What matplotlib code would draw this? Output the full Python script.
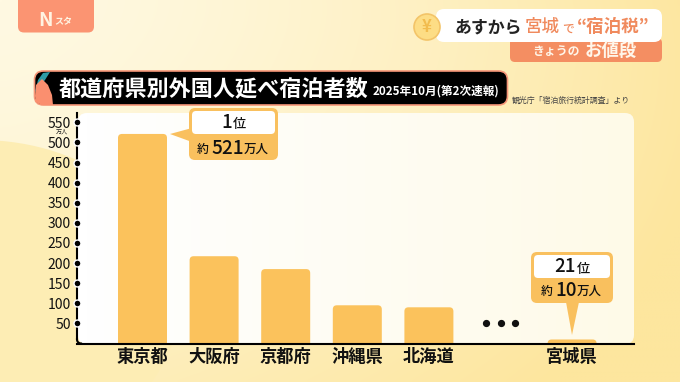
import numpy as np
import matplotlib
matplotlib.use("Agg")
import matplotlib.pyplot as plt
from matplotlib.patches import FancyBboxPatch, Polygon, Circle, Ellipse

plt.rcParams['font.family'] = ['Noto Sans CJK JP', 'DejaVu Sans']

prefectures = ['東京都', '大阪府', '京都府', '沖縄県', '北海道', '宮城県']
positions = [0, 1, 2, 3, 4, 6]
guests = [521, 217, 185, 95, 90, 10]
yticks = [50, 100, 150, 200, 250, 300, 350, 400, 450, 500, 550]
title = '都道府県別外国人延べ宿泊者数'
subtitle = '2025年10月(第2次速報)'
source = '観光庁「宿泊旅行統計調査」より'

W, H = 680, 382
BAR = '#FBC25C'
fig = plt.figure(figsize=(W / 100, H / 100), dpi=100)

# pixel-space layers
bg = fig.add_axes([0, 0, 1, 1], zorder=0)
bg.set_xlim(0, W); bg.set_ylim(H, 0); bg.axis('off')
ov = fig.add_axes([0, 0, 1, 1], zorder=3)
ov.set_xlim(0, W); ov.set_ylim(H, 0); ov.axis('off')

# background wash
yy, xx = np.mgrid[0:1:96j, 0:1:170j]
t = np.clip(0.95 * xx ** 1.5 * (1 - 0.35 * yy) + 0.55 * yy ** 1.5, 0, 1)
c0 = np.array([255, 249, 226]) / 255
c1 = np.array([253, 230, 158]) / 255
img = c0 + (c1 - c0) * t[..., None]
bg.imshow(img, extent=(0, W, H, 0), aspect='auto', interpolation='bilinear', zorder=0)
bg.set_xlim(0, W); bg.set_ylim(H, 0)
bg.add_patch(Ellipse((-20, 300), 400, 320, fc='#FDEDB4', ec='none', zorder=0.5))

# plot panel
panel = FancyBboxPatch((78, 113), 556, 231, boxstyle='round,pad=0,rounding_size=9',
                       fc='none', ec='none', zorder=1)
bg.add_patch(panel)
gx = np.linspace(0, 1, 64)[None, :]
pc0 = np.array([255, 255, 255]) / 255
pc1 = np.array([254, 250, 232]) / 255
pimg = pc0 + (pc1 - pc0) * gx[..., None]
pi = bg.imshow(pimg, extent=(78, 634, 344, 113), aspect='auto', zorder=1)
pi.set_clip_path(panel)
bg.set_xlim(0, W); bg.set_ylim(H, 0)

# chart axes, placed on the picture's plot frame
left, right, top, base = 77, 634, 113, 343.5
ax = fig.add_axes([left / W, 1 - base / H, (right - left) / W, (base - top) / H], zorder=1)
ax.patch.set_visible(False)
px_x, px_y = 71.6, (323 - 142) / 450
ax.set_xlim((left - 142.5) / px_x, (right - 142.5) / px_x)
ax.set_ylim(0, (base - top) / px_y)
bars = ax.bar(positions, guests, width=49 / px_x, color=BAR)
for b in bars:
    b.set_visible(False)
    rx = 4 / px_x
    ax.add_patch(FancyBboxPatch((b.get_x(), -20), b.get_width(), b.get_height() + 20,
                                boxstyle=f'round,pad=0,rounding_size={rx}',
                                mutation_aspect=(1 / px_y) / (1 / px_x),
                                fc=BAR, ec='none', zorder=2, clip_on=True))
ax.set_xticks(positions, prefectures, fontsize=12.4, fontweight='bold', color='#111111')
ax.set_yticks(yticks, [str(v) for v in yticks], fontsize=10, color='#111111')
ax.tick_params(axis='both', length=0)
ax.tick_params(axis='y', pad=4.5)
ax.tick_params(axis='x', pad=3.2)
for s in ['top', 'right']:
    ax.spines[s].set_visible(False)
ax.spines['left'].set_linewidth(1.5)
ax.spines['bottom'].set_linewidth(1.5)
ax.spines['left'].set_bounds(10, ax.get_ylim()[1])
ax.plot([ax.get_xlim()[0]] * len(yticks), yticks, 'o', ms=5, mfc='k', mec='white', mew=1.0,
        clip_on=False, zorder=5)
# ellipsis between the ranked bars
ax.plot([4.8, 5, 5.2], [50, 50, 50], 'o', ms=4.2, color='#111111', ls='none', zorder=4)
ax.set_xlim((left - 142.5) / px_x, (right - 142.5) / px_x)

# rounded elbow of the axis
th = np.linspace(np.pi, np.pi * 1.5, 12)
ov.plot(81 + 4.0 * np.cos(th), 339.5 - 4.0 * np.sin(th), color='k', lw=1.5)
ov.text(62, 132, '万人', fontsize=4.4, ha='center', va='center', color='#222222')

# logo tab
ov.add_patch(FancyBboxPatch((18, -20), 76, 52.5, boxstyle='round,pad=0,rounding_size=6',
                            fc='#FB9472', ec='none', clip_on=True))
ov.text(45.5, 20, 'N', fontsize=14, fontweight='bold', color='#FFF4E2', ha='center', va='center')
ov.text(63.5, 22, 'スタ', fontsize=6.5, fontweight='bold', color='#FFF4E2', ha='center', va='center')

# top-right banner
ov.add_patch(FancyBboxPatch((510, 38), 152, 24, boxstyle='round,pad=0,rounding_size=5',
                            fc='#F48E62', ec='none'))
ov.add_patch(FancyBboxPatch((436, 9), 226, 33, boxstyle='round,pad=0,rounding_size=8',
                            fc='white', ec='none'))
ov.add_patch(Circle((427, 27), 13, fc='#FDDD85', ec='#F3C468', lw=1.2))
ov.text(427, 27, '¥', fontsize=12, fontweight='bold', color='#F2BC4E', ha='center', va='center')
ov.text(455, 27, 'あすから', fontsize=12.2, fontweight='bold', color='#222222', va='center')
ov.text(525, 27, '宮城', fontsize=12.6, fontweight='medium', color='#F08A5D', va='center')
ov.text(562, 29, 'で', fontsize=8.5, fontweight='medium', color='#F08A5D', va='center')
ov.text(577, 27, '“宿泊税”', fontsize=12.6, fontweight='bold', color='#F08A5D', va='center', ha='left')
ov.text(532, 52, 'きょうの', fontsize=8.6, fontweight='bold', color='#FFF6EA', va='center')
ov.text(585, 51, 'お値段', fontsize=12.5, fontweight='bold', color='#FFF6EA', va='center')

# title bar
ov.add_patch(FancyBboxPatch((34.5, 71), 473, 34, boxstyle='round,pad=0,rounding_size=9',
                            fc='black', ec='#F69678', lw=1.2))
ov.add_patch(Polygon([[35, 92], [38, 80], [43, 73], [50, 72], [45, 80]], fc='#2E9CA6', ec='none'))
ov.add_patch(Polygon([[35, 96], [36, 85], [42, 79], [48, 85], [52, 95], [53, 105], [42, 105], [36, 102]],
                     fc='#FA8F6F', ec='none'))
ov.text(59, 88.5, title, fontsize=15.9, fontweight='bold', color='white', va='center', ha='left')
ov.text(373, 91, subtitle, fontsize=8.4, fontweight='bold', color='white', va='center', ha='left')
ov.text(512, 100, source, fontsize=5.7, color='#444444', va='center', ha='left')


def callout(x0, y0, w, h, inner_h, tail):
    ov.add_patch(Polygon(tail, fc='#F9C05E', ec='none', zorder=3))
    ov.add_patch(FancyBboxPatch((x0, y0), w, h, boxstyle='round,pad=0,rounding_size=6',
                                fc='#F9C05E', ec='none', zorder=3))
    ov.add_patch(FancyBboxPatch((x0 + 3, y0 + 3), w - 6, inner_h, boxstyle='round,pad=0,rounding_size=4',
                                fc='white', ec='none', zorder=3))


def label(x, y, s, size, ha='left'):
    ov.text(x, y, s, fontsize=size, ha=ha, va='center', color='#111111', zorder=4, fontweight='medium')


callout(189, 108, 89, 52, 23, [[170, 134], [192, 128], [192, 142]])
label(232, 122, '1', 13.5, 'right')
label(233, 124, '位', 9.5)
label(197, 149, '約', 8.5)
label(211.5, 147.5, '521', 13.6)
label(244, 149, '万人', 9)

callout(531, 252, 82, 51, 23, [[566, 302], [579, 302], [572, 335]])
label(576, 267, '21', 13.5, 'right')
label(577, 269, '位', 9.5)
label(541, 291, '約', 8.5)
label(555, 290, '10', 13.5)
label(577, 291, '万人', 9)

fig.savefig('out.png', dpi=100)
